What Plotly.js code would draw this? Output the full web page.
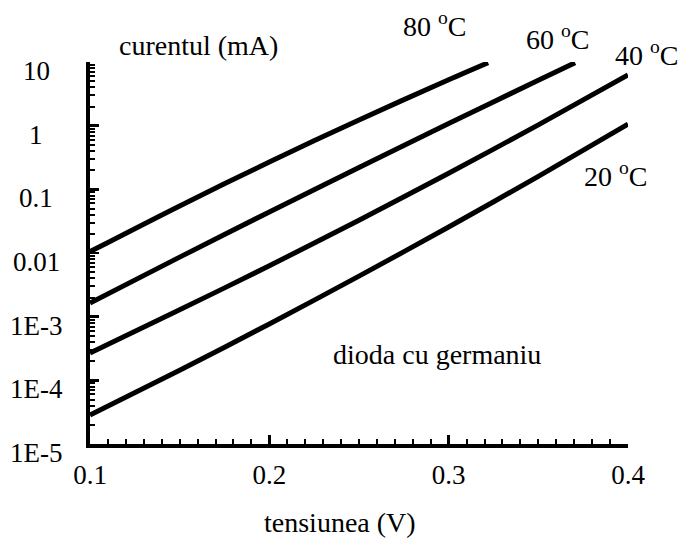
<!DOCTYPE html>
<html>
<head>
<meta charset="utf-8">
<script src="https://cdn.plot.ly/plotly-3.0.1.min.js"></script>
<style>html,body{margin:0;padding:0;background:#fff;}#chart{width:684px;height:538px;}</style>
</head>
<body>
<div id="chart"></div>
<script>
// Data (voltage in V, current in mA)
const x80 = [0.1, 0.15, 0.2, 0.25, 0.3, 0.322];
const y80 = [0.0105, 0.0549, 0.269, 1.23, 5.26, 9.75];

const x60 = [0.1, 0.15, 0.2, 0.25, 0.3, 0.35, 0.3705];
const y60 = [0.00164, 0.00861, 0.0441, 0.221, 1.08, 5.17, 9.75];

const x40 = [0.1, 0.15, 0.2, 0.25, 0.3, 0.35, 0.4];
const y40 = [2.69e-4, 1.28e-3, 6.30e-3, 0.0328, 0.179, 1.03, 6.25];

const x20 = [0.1, 0.15, 0.2, 0.25, 0.3, 0.35, 0.4];
const y20 = [2.86e-5, 1.44e-4, 7.69e-4, 4.33e-3, 0.0256, 0.160, 1.06];

const xTickVals = [0.1, 0.2, 0.3, 0.4];
const xTickText = ['0.1', '0.2', '0.3', '0.4'];
const yTickVals = [10, 1, 0.1, 0.01, 1e-3, 1e-4, 1e-5];
const yTickText = ['10', '1', '0.1', '0.01', '1E-3', '1E-4', '1E-5'];

const seriesLabels = ['80 <sup>o</sup>C', '60 <sup>o</sup>C', '40 <sup>o</sup>C', '20 <sup>o</sup>C'];
const xTitle = 'tensiunea (V)';
const yTitle = 'curentul (mA)';
const note = 'dioda cu germaniu';

const FONT = 'Liberation Serif';
const FS = 28;
const FT = 27;

function line(x, y) {
  return {x: x, y: y, type: 'scatter', mode: 'lines', cliponaxis: false,
          line: {color: '#000', width: 5, shape: 'spline', smoothing: 0.8},
          hoverinfo: 'skip', showlegend: false};
}
const data = [line(x80, y80), line(x60, y60), line(x40, y40), line(x20, y20)];

// plot area geometry (px) used for placing free text
const L = 90, R = 628, T = 62, B = 444, W = 684, H = 538;
function px(p) { return (p - L) / (R - L); }
function py(p) { return (B - p) / (B - T); }

const ann = [];
yTickVals.forEach((v, i) => {
  ann.push({xref: 'paper', yref: 'y', x: px(36), y: Math.log10(v), text: yTickText[i],
            showarrow: false, xanchor: 'center', yanchor: 'middle', yshift: -9,
            font: {family: FONT, size: FT, color: '#000'}});
});
const labelPos = [[434, 25], [557, 37], [646, 54], [615, 174]];
seriesLabels.forEach((t, i) => {
  ann.push({xref: 'paper', yref: 'paper', x: px(labelPos[i][0]), y: py(labelPos[i][1]), text: t,
            showarrow: false, xanchor: 'center', yanchor: 'middle',
            font: {family: FONT, size: FS, color: '#000'}});
});
ann.push({xref: 'paper', yref: 'paper', x: px(198), y: py(46), text: yTitle, showarrow: false,
          xanchor: 'center', yanchor: 'middle', font: {family: FONT, size: FS, color: '#000'}});
ann.push({xref: 'paper', yref: 'paper', x: px(437), y: py(354), text: note, showarrow: false,
          xanchor: 'center', yanchor: 'middle', font: {family: FONT, size: FS, color: '#000'}});
ann.push({xref: 'paper', yref: 'paper', x: px(340), y: py(522), text: xTitle, showarrow: false,
          xanchor: 'center', yanchor: 'middle', font: {family: FONT, size: FS, color: '#000'}});

const layout = {
  width: W, height: H,
  margin: {l: L, r: W - R, t: T, b: H - B, pad: 0},
  paper_bgcolor: '#fff', plot_bgcolor: '#fff',
  font: {family: FONT, size: FS, color: '#000'},
  showlegend: false,
  xaxis: {
    range: [0.1, 0.4], tickmode: 'array', tickvals: xTickVals, ticktext: xTickText,
    showgrid: false, zeroline: false, showline: true, linecolor: '#000', linewidth: 4,
    ticks: 'inside', ticklen: 9, tickwidth: 2.5, tickcolor: '#000',
    minor: {dtick: 0.01, ticks: 'inside', ticklen: 5, tickwidth: 2, tickcolor: '#000', showgrid: false},
    tickfont: {family: FONT, size: FT, color: '#000'}, ticklabelstandoff: 4,
    fixedrange: true
  },
  yaxis: {
    type: 'log', range: [-5, 1], dtick: 1, tick0: 0, showticklabels: false,
    showgrid: false, zeroline: false, showline: true, linecolor: '#000', linewidth: 4,
    ticks: 'inside', ticklen: 9, tickwidth: 2.5, tickcolor: '#000',
    minor: {dtick: 'D1', ticks: 'inside', ticklen: 5, tickwidth: 2, tickcolor: '#000', showgrid: false},
    fixedrange: true
  },
  annotations: ann
};

Plotly.newPlot('chart', data, layout, {staticPlot: true, displayModeBar: false});
</script>
</body>
</html>
